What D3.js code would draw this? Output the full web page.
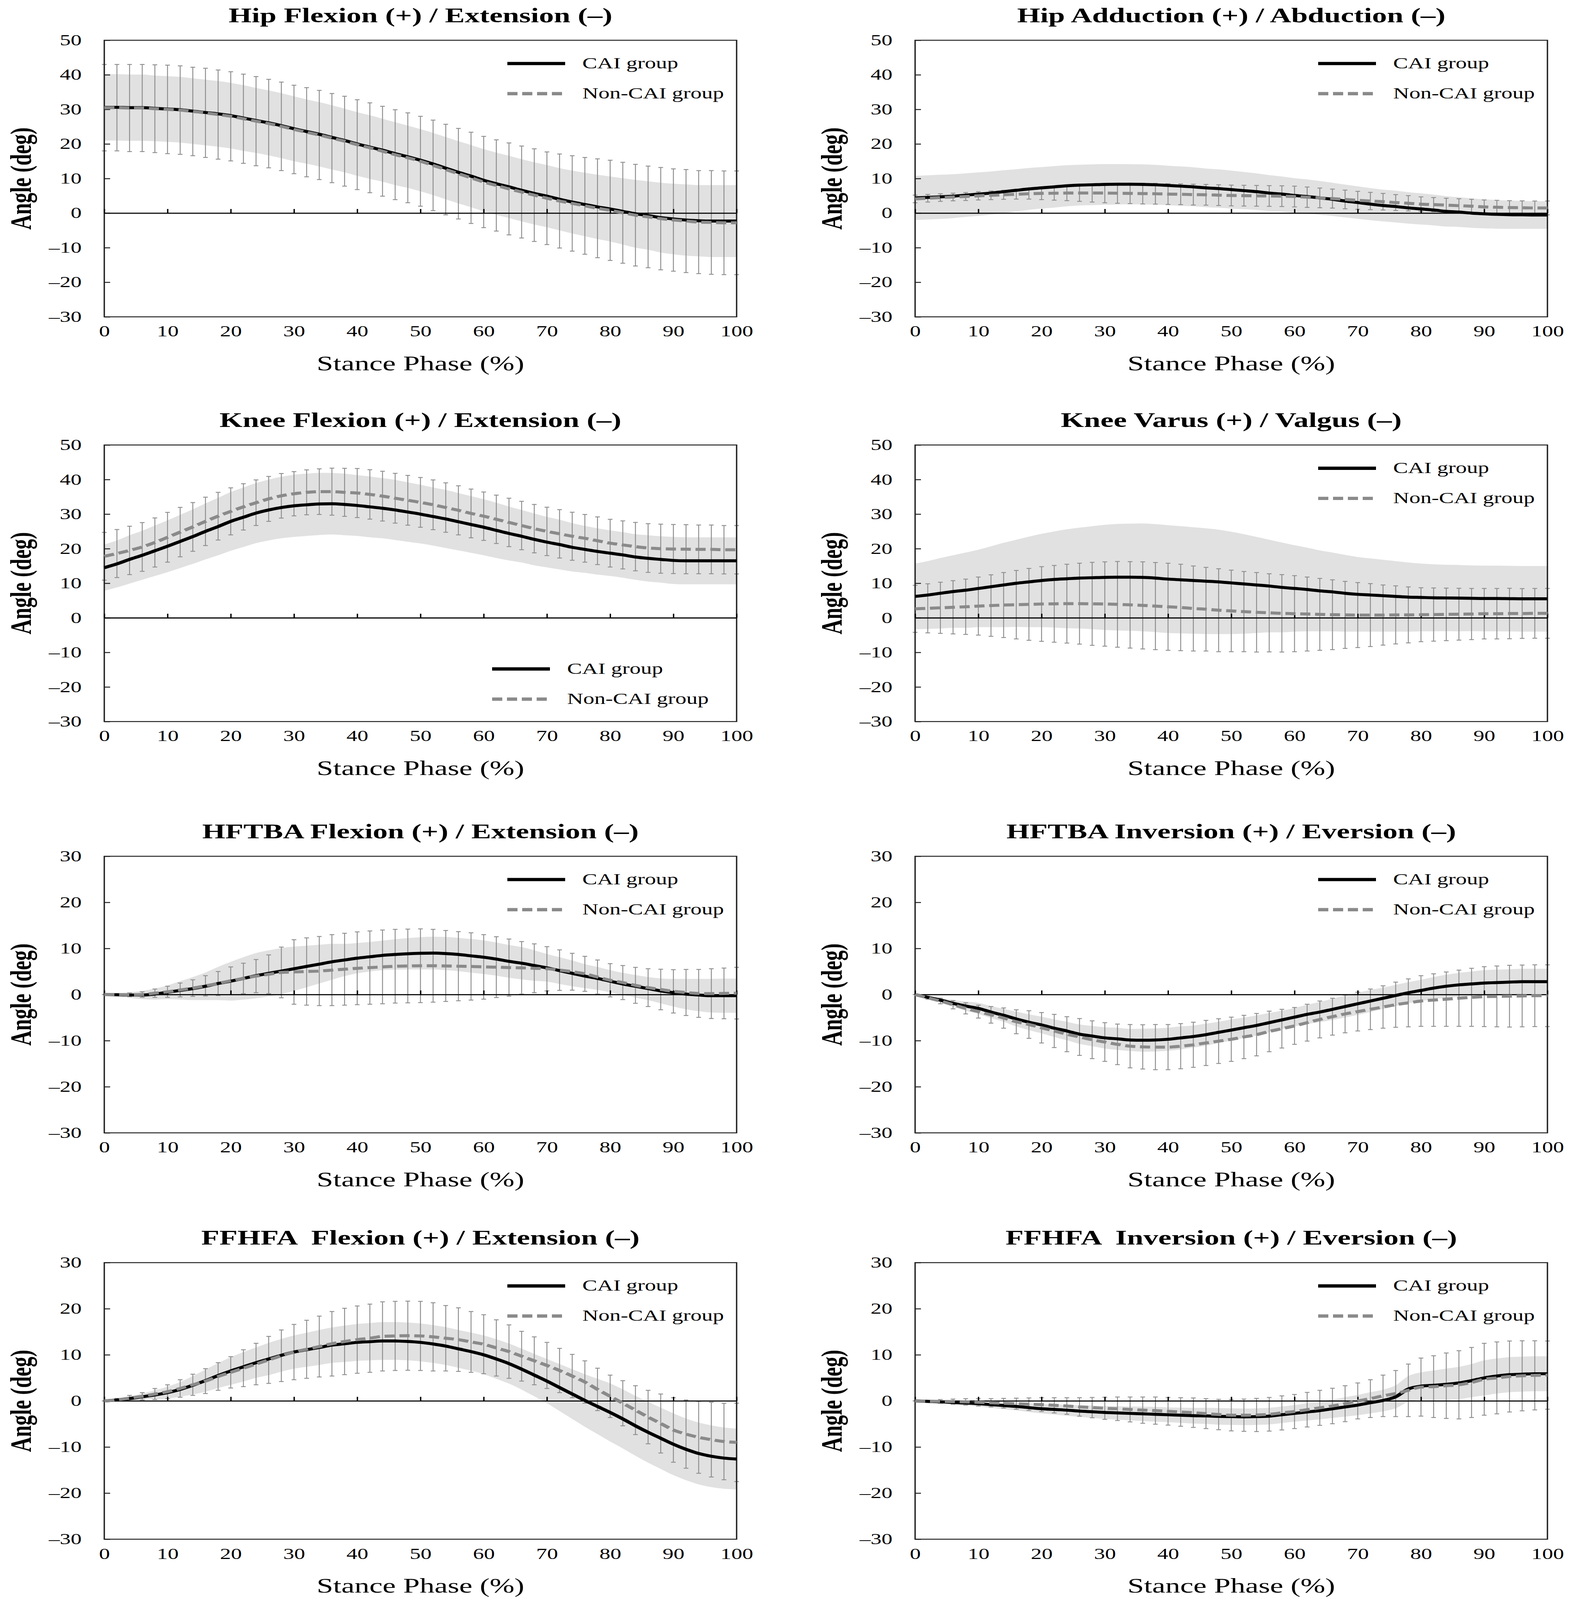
<!DOCTYPE html>
<html>
<head>
<meta charset="utf-8">
<script src="https://cdn.jsdelivr.net/npm/d3@7"></script>
<style>
  html, body { margin: 0; padding: 0; background: #fff; overflow: hidden; }
  svg { display: block; }
  svg text { font-family: "Liberation Serif", "Times New Roman", serif; fill: #000; }
</style>
</head>
<body>
<div id="chart"></div>
<script>
// stance phase, sampled every 2 %
const stancePhase = d3.range(0, 101, 2);
const xTicks = [0, 10, 20, 30, 40, 50, 60, 70, 80, 90, 100];
const yTicksTall = [50, 40, 30, 20, 10, 0, -10, -20, -30];
const yTicksShort = [30, 20, 10, 0, -10, -20, -30];
const groupNames = ["CAI group", "Non-CAI group"];

const panelTitles = [
  "Hip Flexion (+) / Extension (\u2013)",
  "Hip Adduction (+) / Abduction (\u2013)",
  "Knee Flexion (+) / Extension (\u2013)",
  "Knee Varus (+) / Valgus (\u2013)",
  "HFTBA Flexion (+) / Extension (\u2013)",
  "HFTBA Inversion (+) / Eversion (\u2013)",
  "FFHFA  Flexion (+) / Extension (\u2013)",
  "FFHFA  Inversion (+) / Eversion (\u2013)"
];

// ---- hip flexion
const hipFlexCAI = [30.6,30.6,30.5,30.5,30.3,30.1,29.9,29.5,29.1,28.7,
  28.2,27.5,26.8,26.1,25.3,24.4,23.6,22.8,21.9,21.0,
  20.0,19.1,18.2,17.2,16.3,15.3,14.2,13.0,11.8,10.7,
  9.5,8.5,7.6,6.6,5.7,4.9,4.0,3.2,2.5,1.8,
  1.2,0.5,-0.2,-0.7,-1.3,-1.7,-2.0,-2.2,-2.3,-2.3,-2.3];
const hipFlexNonCAI = [30.5,30.5,30.4,30.4,30.2,30.0,29.8,29.4,29.0,28.5,
  28.0,27.3,26.6,25.9,25.1,24.2,23.4,22.6,21.7,20.8,
  19.8,18.9,17.9,16.9,16.0,15.0,13.8,12.6,11.4,10.2,
  9.0,8.0,7.0,6.1,5.2,4.3,3.5,2.8,2.1,1.4,
  0.8,0.1,-0.6,-1.1,-1.6,-2.0,-2.3,-2.6,-2.7,-2.8,-2.8];
const hipFlexCAISD = [9.6,9.6,9.6,9.6,9.5,9.5,9.5,9.5,9.5,9.5,
  9.5,9.5,9.4,9.4,9.4,9.4,9.3,9.3,9.3,9.2,
  9.2,9.2,9.1,9.1,9.0,9.0,9.0,9.0,9.0,9.0,
  9.0,9.0,9.0,9.0,9.0,9.0,9.0,9.1,9.2,9.3,
  9.4,9.6,9.8,9.9,10.1,10.2,10.3,10.3,10.4,10.4,10.4];
const hipFlexNonCAISD = [12.5,12.5,12.6,12.6,12.7,12.8,12.8,12.8,12.9,12.9,
  12.9,12.9,12.9,12.8,12.8,12.8,12.9,12.9,12.9,13.0,
  13.0,13.0,13.0,13.0,13.0,13.0,13.1,13.1,13.1,13.2,
  13.2,13.2,13.3,13.3,13.4,13.4,13.6,13.8,14.0,14.3,
  14.5,14.6,14.7,14.7,14.8,14.8,14.9,14.9,15.0,15.0,15.0];

// ---- hip adduction
const hipAddCAI = [4.4,4.55,4.7,4.9,5.2,5.5,5.8,6.2,6.6,7.0,
  7.3,7.6,7.9,8.1,8.2,8.3,8.35,8.35,8.3,8.2,
  8.0,7.8,7.6,7.3,7.1,6.8,6.5,6.2,5.8,5.5,
  5.1,4.8,4.4,4.0,3.5,3.05,2.6,2.2,1.9,1.5,
  1.2,0.9,0.5,0.3,0.0,-0.2,-0.35,-0.45,-0.5,-0.55,-0.55];
const hipAddNonCAI = [4.1,4.3,4.5,4.65,4.8,5.0,5.15,5.3,5.45,5.6,
  5.7,5.75,5.8,5.8,5.8,5.8,5.75,5.7,5.65,5.6,
  5.5,5.45,5.35,5.3,5.2,5.1,5.05,5.0,4.95,4.9,
  4.8,4.6,4.4,4.2,3.95,3.7,3.5,3.3,3.05,2.85,
  2.6,2.45,2.3,2.15,2.0,1.8,1.7,1.6,1.55,1.5,1.5];
const hipAddCAISD = [6.4,6.4,6.4,6.35,6.3,6.3,6.25,6.2,6.1,6.05,
  6.0,6.0,5.95,5.9,5.9,5.9,5.85,5.8,5.8,5.75,
  5.7,5.7,5.65,5.6,5.55,5.5,5.4,5.3,5.2,5.1,
  5.0,4.95,4.9,4.8,4.75,4.7,4.65,4.6,4.6,4.55,
  4.5,4.45,4.4,4.3,4.25,4.2,4.15,4.1,4.05,4.0,4.0];
const hipAddNonCAISD = [1.1,1.1,1.1,1.1,1.15,1.2,1.25,1.3,1.4,1.55,
  1.8,2.0,2.2,2.4,2.6,2.8,2.9,2.95,3.0,3.0,
  3.0,3.0,3.0,3.0,3.0,3.0,3.0,3.0,3.0,3.0,
  3.0,2.95,2.85,2.75,2.7,2.6,2.5,2.4,2.3,2.2,
  2.1,2.05,2.0,2.0,2.0,2.0,2.0,2.0,2.0,2.0,2.0];

// ---- knee flexion
const kneeFlexCAI = [14.5,15.6,16.9,18.1,19.4,20.7,22.1,23.5,25.0,26.4,
  27.9,29.1,30.3,31.2,31.9,32.4,32.7,32.95,33.0,32.8,
  32.5,32.1,31.7,31.2,30.6,30.0,29.3,28.6,27.8,27.0,
  26.2,25.3,24.4,23.6,22.7,21.9,21.2,20.4,19.8,19.2,
  18.7,18.2,17.6,17.2,16.9,16.6,16.5,16.5,16.5,16.5,16.5];
const kneeFlexNonCAI = [17.8,18.6,19.5,20.5,21.8,23.3,24.8,26.3,27.9,29.4,
  30.8,32.1,33.3,34.4,35.3,35.9,36.3,36.5,36.5,36.3,
  36.1,35.7,35.2,34.6,34.0,33.4,32.7,31.9,31.1,30.2,
  29.4,28.5,27.6,26.7,25.8,25.0,24.3,23.6,23.0,22.3,
  21.6,21.1,20.6,20.2,20.0,19.9,19.85,19.8,19.8,19.7,19.7];
const kneeFlexCAISD = [6.7,6.8,7.0,7.1,7.3,7.5,7.7,7.9,8.1,8.3,
  8.5,8.6,8.7,8.8,8.9,9.0,9.0,9.0,8.9,8.9,
  8.8,8.8,8.7,8.7,8.6,8.5,8.4,8.4,8.3,8.2,
  8.1,8.0,7.8,7.6,7.5,7.3,7.2,7.0,6.8,6.7,
  6.6,6.6,6.6,6.7,6.7,6.8,6.8,6.8,6.8,6.8,6.8];
const kneeFlexNonCAISD = [6.9,6.95,7.0,7.05,7.1,7.2,7.15,7.05,7.0,6.9,
  6.8,6.7,6.6,6.5,6.45,6.4,6.5,6.6,6.8,6.95,
  7.1,7.15,7.2,7.2,7.2,7.2,7.2,7.15,7.1,7.05,
  7.0,7.0,7.0,7.0,7.0,7.0,7.0,6.95,6.9,6.9,
  6.9,6.95,7.0,7.05,7.1,7.1,7.1,7.05,7.05,7.0,7.0];

// ---- knee varus
const kneeVarCAI = [6.2,6.6,7.1,7.6,8.0,8.5,9.0,9.5,10.0,10.4,
  10.8,11.1,11.3,11.5,11.6,11.7,11.75,11.75,11.7,11.5,
  11.2,11.0,10.8,10.6,10.4,10.1,9.8,9.5,9.2,8.8,
  8.5,8.2,7.8,7.5,7.1,6.8,6.6,6.4,6.2,6.0,
  5.9,5.8,5.75,5.7,5.65,5.6,5.6,5.55,5.5,5.5,5.5];
const kneeVarNonCAI = [2.6,2.75,2.9,3.05,3.2,3.4,3.55,3.7,3.8,3.9,
  4.0,4.05,4.1,4.1,4.05,4.0,3.9,3.75,3.6,3.4,
  3.2,3.0,2.7,2.5,2.2,2.0,1.8,1.6,1.45,1.3,
  1.2,1.1,1.0,0.9,0.85,0.8,0.8,0.8,0.85,0.85,
  0.9,0.95,1.0,1.05,1.1,1.2,1.2,1.25,1.25,1.3,1.3];
const kneeVarCAISD = [9.5,9.8,10.2,10.5,10.9,11.2,11.7,12.2,12.6,13.1,
  13.5,13.9,14.3,14.6,14.9,15.2,15.4,15.5,15.6,15.6,
  15.6,15.5,15.4,15.3,15.1,14.8,14.4,13.9,13.4,13.0,
  12.5,12.1,11.7,11.4,11.1,10.8,10.6,10.4,10.2,10.0,
  9.8,9.7,9.6,9.6,9.5,9.5,9.5,9.5,9.5,9.5,9.5];
const kneeVarNonCAISD = [6.8,7.1,7.4,7.7,8.0,8.4,8.9,9.4,9.9,10.4,
  10.8,11.1,11.4,11.7,12.0,12.2,12.4,12.5,12.6,12.6,
  12.6,12.5,12.3,12.1,12.0,11.8,11.6,11.5,11.3,11.2,
  11.0,10.7,10.4,10.1,9.7,9.4,9.1,8.7,8.4,8.1,
  7.8,7.7,7.6,7.5,7.4,7.3,7.3,7.3,7.2,7.2,7.2];

// ---- HFTBA flexion
const hftbaFlexCAI = [0.0,-0.05,-0.1,-0.1,0.1,0.5,0.9,1.3,1.8,2.4,
  2.9,3.5,4.1,4.6,5.1,5.6,6.1,6.6,7.1,7.5,
  7.9,8.2,8.5,8.7,8.85,8.95,9.0,8.9,8.7,8.4,
  8.1,7.7,7.2,6.8,6.3,5.8,5.2,4.6,4.0,3.5,
  2.9,2.3,1.8,1.3,0.8,0.4,0.1,-0.1,-0.25,-0.25,-0.25];
const hftbaFlexNonCAI = [0.0,0.0,-0.05,0.0,0.3,0.6,1.0,1.4,1.9,2.4,
  3.0,3.5,4.0,4.4,4.8,4.9,5.0,5.1,5.3,5.5,
  5.7,5.85,6.0,6.15,6.2,6.25,6.25,6.2,6.15,6.1,
  6.0,5.95,5.85,5.8,5.7,5.6,5.3,4.95,4.5,3.8,
  3.1,2.6,2.0,1.5,1.1,0.7,0.45,0.25,0.2,0.25,0.3];
const hftbaFlexCAISD = [0.0,0.3,0.6,0.9,1.2,1.5,2.0,2.5,3.0,3.6,
  4.2,4.6,4.9,5.0,5.0,4.8,4.5,4.2,3.9,3.5,
  3.3,3.2,3.2,3.3,3.4,3.5,3.55,3.6,3.6,3.65,
  3.65,3.6,3.55,3.5,3.3,3.0,2.9,2.8,2.6,2.5,
  2.4,2.4,2.45,2.5,2.7,3.0,3.3,3.5,3.65,3.7,3.7];
const hftbaFlexNonCAISD = [0.0,0.2,0.4,0.6,0.9,1.2,1.5,1.8,2.2,2.6,
  3.0,3.3,3.6,4.2,5.5,7.0,7.3,7.5,7.7,7.8,
  7.9,7.95,8.0,8.0,8.0,8.0,7.9,7.7,7.5,7.3,
  7.0,6.6,6.2,5.7,5.3,4.8,4.4,4.0,3.8,3.7,
  3.6,3.7,3.9,4.1,4.4,4.7,5.0,5.2,5.4,5.5,5.6];

// ---- HFTBA inversion
const hftbaInvCAI = [0.0,-0.6,-1.2,-1.9,-2.5,-3.0,-3.8,-4.5,-5.3,-6.0,
  -6.6,-7.3,-7.9,-8.6,-9.0,-9.4,-9.6,-9.85,-9.9,-9.85,
  -9.7,-9.4,-9.1,-8.7,-8.2,-7.7,-7.2,-6.7,-6.1,-5.5,
  -4.9,-4.3,-3.8,-3.2,-2.6,-2.0,-1.4,-0.8,-0.2,0.4,
  0.9,1.4,1.8,2.1,2.3,2.5,2.6,2.7,2.8,2.8,2.8];
const hftbaInvNonCAI = [0.0,-0.7,-1.4,-2.2,-3.0,-3.7,-4.4,-5.1,-5.9,-6.5,
  -7.2,-7.9,-8.6,-9.2,-9.8,-10.3,-10.8,-11.2,-11.35,-11.4,
  -11.4,-11.2,-10.9,-10.5,-10.1,-9.7,-9.2,-8.7,-8.0,-7.4,
  -6.8,-6.1,-5.4,-4.8,-4.2,-3.7,-3.2,-2.7,-2.2,-1.8,
  -1.4,-1.2,-1.0,-0.8,-0.6,-0.45,-0.4,-0.35,-0.3,-0.25,-0.25];
const hftbaInvCAISD = [0.0,0.3,0.5,0.7,1.0,1.2,1.3,1.4,1.6,1.7,
  1.8,1.9,2.0,2.1,2.2,2.3,2.4,2.4,2.5,2.5,
  2.5,2.5,2.4,2.4,2.3,2.3,2.2,2.2,2.1,2.0,
  2.0,2.1,2.2,2.3,2.4,2.4,2.4,2.3,2.3,2.3,
  2.3,2.4,2.5,2.6,2.7,2.8,2.8,2.8,2.8,2.8,2.8];
const hftbaInvNonCAISD = [0.0,0.3,0.6,0.9,1.2,1.4,1.8,2.2,2.6,3.0,
  3.3,3.6,3.8,4.0,4.1,4.2,4.4,4.7,4.8,4.9,
  4.9,4.9,4.9,4.9,4.85,4.8,4.7,4.6,4.4,4.2,
  4.0,4.0,4.0,4.0,4.1,4.2,4.4,4.6,4.9,5.2,
  5.5,5.7,5.9,6.1,6.3,6.5,6.6,6.7,6.7,6.7,6.7];

// ---- FFHFA flexion
const ffhfaFlexCAI = [0.0,0.2,0.5,0.9,1.3,1.8,2.5,3.4,4.4,5.5,
  6.5,7.4,8.3,9.1,9.9,10.6,11.1,11.6,12.1,12.4,
  12.7,12.85,13.0,13.0,12.9,12.7,12.35,11.9,11.3,10.7,
  10.0,9.1,8.1,6.9,5.6,4.3,2.9,1.5,0.1,-1.2,
  -2.5,-3.9,-5.4,-6.8,-8.1,-9.4,-10.5,-11.4,-12.0,-12.4,-12.6];
const ffhfaFlexNonCAI = [0.0,0.25,0.6,1.0,1.5,2.0,2.7,3.5,4.3,5.3,
  6.2,7.1,8.0,8.9,9.8,10.6,11.2,11.8,12.4,12.9,
  13.3,13.6,14.0,14.1,14.15,14.1,13.9,13.6,13.3,12.8,
  12.3,11.5,10.7,9.7,8.7,7.7,6.6,5.4,4.1,2.5,
  1.0,-0.5,-2.0,-3.5,-4.9,-6.3,-7.2,-7.9,-8.4,-8.8,-9.0];
const ffhfaFlexCAISD = [0.0,0.25,0.5,0.7,1.0,1.3,1.6,2.0,2.4,2.7,
  3.0,3.2,3.3,3.5,3.55,3.6,3.7,3.8,3.85,3.95,
  4.0,4.05,4.1,4.1,4.1,4.1,4.1,4.1,4.1,4.15,
  4.2,4.3,4.35,4.45,4.6,4.8,5.1,5.4,5.7,6.0,
  6.3,6.4,6.5,6.6,6.65,6.7,6.7,6.7,6.7,6.65,6.6];
const ffhfaFlexNonCAISD = [0.0,0.3,0.6,0.8,1.2,1.5,1.9,2.3,2.7,3.0,
  3.4,4.0,4.5,5.1,5.6,6.0,6.3,6.6,7.0,7.2,
  7.3,7.4,7.5,7.5,7.5,7.5,7.4,7.1,6.9,6.6,
  6.4,6.1,5.8,5.4,5.2,5.0,4.8,4.7,4.6,4.6,
  4.6,4.9,5.3,5.8,6.4,7.0,7.4,7.8,8.1,8.3,8.5];

// ---- FFHFA inversion
const ffhfaInvCAI = [0.0,-0.1,-0.2,-0.35,-0.45,-0.6,-0.8,-1.0,-1.2,-1.45,
  -1.7,-1.85,-2.0,-2.2,-2.35,-2.5,-2.6,-2.7,-2.8,-2.9,
  -3.0,-3.1,-3.2,-3.25,-3.35,-3.4,-3.45,-3.4,-3.3,-3.0,
  -2.7,-2.4,-2.1,-1.7,-1.3,-0.9,-0.4,0.1,0.9,2.6,
  3.2,3.4,3.6,3.9,4.4,5.0,5.4,5.7,5.8,5.9,5.9];
const ffhfaInvNonCAI = [0.0,-0.05,-0.1,-0.15,-0.2,-0.3,-0.4,-0.5,-0.6,-0.7,
  -0.8,-0.95,-1.1,-1.3,-1.45,-1.6,-1.7,-1.85,-2.0,-2.1,
  -2.25,-2.4,-2.55,-2.75,-2.95,-3.1,-3.1,-3.05,-2.9,-2.6,
  -2.3,-1.9,-1.5,-1.1,-0.6,0.0,0.5,1.1,1.6,2.3,
  3.0,3.1,3.3,3.5,4.0,4.7,5.0,5.3,5.45,5.55,5.6];
const ffhfaInvCAISD = [0.0,0.1,0.25,0.35,0.5,0.6,0.7,0.8,0.85,0.95,
  1.0,1.1,1.2,1.25,1.35,1.4,1.45,1.5,1.55,1.6,
  1.6,1.65,1.7,1.75,1.8,1.8,1.8,1.8,1.8,1.8,
  1.8,1.85,1.9,2.0,2.1,2.2,2.3,2.35,2.5,2.8,
  3.0,3.2,3.4,3.5,3.6,3.8,3.8,3.8,3.8,3.8,3.8];
const ffhfaInvNonCAISD = [0.0,0.2,0.4,0.55,0.7,0.8,0.9,1.05,1.2,1.35,
  1.5,1.65,1.8,2.0,2.2,2.4,2.55,2.7,2.85,2.95,
  3.0,3.1,3.2,3.25,3.3,3.4,3.5,3.6,3.65,3.7,
  3.7,3.75,3.8,3.85,3.9,3.9,4.1,4.5,5.0,5.7,
  6.3,6.7,7.1,7.4,7.6,7.8,7.8,7.7,7.6,7.5,7.4];

// panel table built from the arrays above
const panels = [
  { title: panelTitles[0], cai: hipFlexCAI, non: hipFlexNonCAI, caiSD: hipFlexCAISD, nonSD: hipFlexNonCAISD, ticks: yTicksTall },
  { title: panelTitles[1], cai: hipAddCAI, non: hipAddNonCAI, caiSD: hipAddCAISD, nonSD: hipAddNonCAISD, ticks: yTicksTall },
  { title: panelTitles[2], cai: kneeFlexCAI, non: kneeFlexNonCAI, caiSD: kneeFlexCAISD, nonSD: kneeFlexNonCAISD, ticks: yTicksTall, legendLow: true },
  { title: panelTitles[3], cai: kneeVarCAI, non: kneeVarNonCAI, caiSD: kneeVarCAISD, nonSD: kneeVarNonCAISD, ticks: yTicksTall },
  { title: panelTitles[4], cai: hftbaFlexCAI, non: hftbaFlexNonCAI, caiSD: hftbaFlexCAISD, nonSD: hftbaFlexNonCAISD, ticks: yTicksShort },
  { title: panelTitles[5], cai: hftbaInvCAI, non: hftbaInvNonCAI, caiSD: hftbaInvCAISD, nonSD: hftbaInvNonCAISD, ticks: yTicksShort },
  { title: panelTitles[6], cai: ffhfaFlexCAI, non: ffhfaFlexNonCAI, caiSD: ffhfaFlexCAISD, nonSD: ffhfaFlexNonCAISD, ticks: yTicksShort },
  { title: panelTitles[7], cai: ffhfaInvCAI, non: ffhfaInvNonCAI, caiSD: ffhfaInvCAISD, nonSD: ffhfaInvNonCAISD, ticks: yTicksShort }
];

// layout, in the reference's own pixel space (4030 x 5843)
const fullWidth = 4030, fullHeight = 5843;
const width = 1619, height = 1010;
const colLeft = [267, 2343];
const rowTop = [147, 1625, 3127, 4611];

// the window is shorter than the figure, so the whole drawing is fitted into it
const viewW = window.innerWidth || fullWidth;
const viewH = window.innerHeight || fullHeight;

const svg = d3.select('#chart').append('svg')
    .attr('width', viewW)
    .attr('height', viewH)
    .attr('viewBox', '0 0 ' + fullWidth + ' ' + fullHeight)
    .attr('preserveAspectRatio', 'none');
svg.append('rect').attr('width', fullWidth).attr('height', fullHeight).attr('fill', '#fff');

const minusFmt = d => d < 0 ? '\u2013' + Math.abs(d) : String(d);

panels.forEach((p, k) => {
    const g = svg.append('g')
        .attr('transform', 'translate(' + colLeft[k % 2] + ',' + rowTop[Math.floor(k / 2)] + ')');

    const x = d3.scaleLinear().domain([0, 100]).range([0, width]);
    const y = d3.scaleLinear().domain([p.ticks[p.ticks.length - 1], p.ticks[0]]).range([height, 0]);

    // CAI SD as a shaded band
    const band = d3.area()
        .x((d, i) => x(stancePhase[i]))
        .y0((d, i) => y(d - p.caiSD[i]))
        .y1((d, i) => y(d + p.caiSD[i]))
        .curve(d3.curveMonotoneX);
    g.append('path').datum(p.cai)
        .attr('d', band)
        .attr('fill', '#e1e1e1');

    // non-CAI SD as error bars
    const bars = g.append('g').attr('class', 'error-bars')
        .attr('stroke', '#8e8e8e').attr('stroke-width', 2.4)
        .selectAll('g').data(stancePhase).join('g');
    bars.append('line')
        .attr('x1', d => x(d)).attr('x2', d => x(d))
        .attr('y1', (d, i) => y(p.non[i] + p.nonSD[i]))
        .attr('y2', (d, i) => y(p.non[i] - p.nonSD[i]));
    bars.append('line')
        .attr('x1', d => x(d) - 6).attr('x2', d => x(d) + 6)
        .attr('y1', (d, i) => y(p.non[i] + p.nonSD[i]))
        .attr('y2', (d, i) => y(p.non[i] + p.nonSD[i]))
        .attr('stroke-width', 3.2);
    bars.append('line')
        .attr('x1', d => x(d) - 6).attr('x2', d => x(d) + 6)
        .attr('y1', (d, i) => y(p.non[i] - p.nonSD[i]))
        .attr('y2', (d, i) => y(p.non[i] - p.nonSD[i]))
        .attr('stroke-width', 3.2);

    // frame
    g.append('rect')
        .attr('width', width).attr('height', height)
        .attr('fill', 'none').attr('stroke', '#222').attr('stroke-width', 3.5);

    // y axis, ticks pointing inward
    const yAxis = g.append('g')
        .call(d3.axisLeft(y).tickValues(p.ticks).tickSize(-15).tickSizeOuter(0)
            .tickPadding(58).tickFormat(minusFmt));
    yAxis.select('.domain').remove();
    yAxis.selectAll('line').attr('stroke', '#222').attr('stroke-width', 3.5);
    yAxis.selectAll('text').style('font-size', '56px').attr('font-family', null);

    // x tick labels under the frame
    const xAxis = g.append('g')
        .attr('transform', 'translate(0,' + height + ')')
        .call(d3.axisBottom(x).tickValues(xTicks).tickSize(0).tickPadding(32));
    xAxis.select('.domain').remove();
    xAxis.selectAll('text').style('font-size', '56px').attr('font-family', null);

    // zero line with its upward ticks
    const zeroAxis = g.append('g')
        .attr('transform', 'translate(0,' + y(0) + ')')
        .call(d3.axisTop(x).tickValues(xTicks).tickSize(15).tickSizeOuter(0).tickFormat(''));
    zeroAxis.select('.domain').attr('stroke', '#000').attr('stroke-width', 4);
    zeroAxis.selectAll('line').attr('stroke', '#000').attr('stroke-width', 3.5);

    // mean curves
    const line = d3.line()
        .x((d, i) => x(stancePhase[i]))
        .y(d => y(d))
        .curve(d3.curveMonotoneX);
    g.append('path').datum(p.cai)
        .attr('d', line)
        .attr('fill', 'none').attr('stroke', '#000').attr('stroke-width', 11);
    g.append('path').datum(p.non)
        .attr('d', line)
        .attr('fill', 'none').attr('stroke', '#8a8a8a').attr('stroke-width', 11)
        .attr('stroke-dasharray', '26,12');

    // legend
    const lx = p.legendLow ? 993 : 1032;
    const ly = p.legendLow ? 818 : 85;
    const legend = g.append('g').attr('transform', 'translate(' + lx + ',' + ly + ')');
    groupNames.forEach((name, j) => {
        legend.append('line')
            .attr('x1', 0).attr('x2', 148)
            .attr('y1', j * 110).attr('y2', j * 110)
            .attr('stroke', j === 0 ? '#000' : '#8a8a8a')
            .attr('stroke-width', 12)
            .attr('stroke-dasharray', j === 0 ? null : '26,12');
        legend.append('text')
            .attr('x', 192).attr('y', j * 110)
            .attr('dy', '0.3em')
            .style('font-size', '57px')
            .text(name);
    });

    // title
    g.append('text')
        .attr('x', width / 2).attr('y', -66)
        .attr('text-anchor', 'middle')
        .style('font-size', '76px').style('font-weight', 'bold')
        .style('white-space', 'pre')
        .text(p.title);

    // x label
    g.append('text')
        .attr('x', width / 2).attr('y', height + 195)
        .attr('text-anchor', 'middle')
        .style('font-size', '76px')
        .text('Stance Phase (%)');

    // y label
    g.append('text')
        .attr('transform', 'translate(-188,' + (height / 2) + ') rotate(-90)')
        .attr('text-anchor', 'middle')
        .style('font-size', '76px').style('font-weight', 'bold')
        .text('Angle (deg)');
});
</script>
</body>
</html>
